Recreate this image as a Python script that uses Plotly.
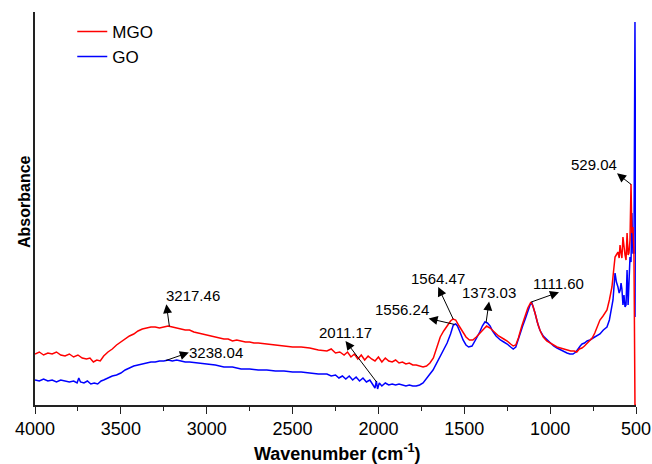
import numpy as np
import plotly.graph_objects as go

# ---------------- data ----------------
mgo_wn = [4000, 3975, 3950, 3925, 3900, 3875, 3850, 3825, 3800, 3775, 3750, 3725, 3700, 3680,
          3660, 3640, 3620, 3600, 3575, 3550, 3525, 3500, 3475, 3450, 3425, 3400, 3375, 3350,
          3325, 3300, 3275, 3250, 3225, 3200, 3175, 3150, 3125, 3100, 3075, 3050, 3025, 3000,
          2975, 2950, 2925, 2900, 2875, 2850, 2825, 2800, 2775, 2750, 2725, 2700, 2650, 2600,
          2550, 2500, 2450, 2400, 2350, 2300, 2275, 2250, 2225, 2200, 2180, 2160, 2140, 2120,
          2100, 2080, 2060, 2040, 2020, 2000, 1980, 1960, 1940, 1920, 1900, 1880, 1860, 1840,
          1820, 1800, 1780, 1760, 1740, 1720, 1700, 1680, 1660, 1640, 1620, 1600, 1580, 1566,
          1550, 1530, 1510, 1490, 1470, 1450, 1430, 1410, 1390, 1370, 1350, 1330, 1300, 1270,
          1250, 1230, 1215, 1200, 1185, 1165, 1145, 1130, 1112, 1100, 1085, 1070, 1055, 1040,
          1020, 1000, 980, 960, 940, 920, 900, 880, 860, 845, 830, 815, 800, 785, 770, 755,
          740, 727, 710, 692, 680, 669, 655, 640, 630, 622, 615, 605, 598, 593, 588, 582,
          576, 570, 564, 558, 552, 546, 541, 535, 529, 524, 518, 512, 506, 500]
mgo_abs = [51, 53, 50, 52, 51, 53, 50, 49, 51, 48, 50, 47, 46, 47,
           43, 45, 44, 49, 53, 56, 60, 63, 66, 69, 71, 74, 76, 77,
           78, 78, 77, 78, 79, 78, 77, 76, 75, 75, 73, 72, 71, 70,
           69, 68, 67, 66, 66, 64, 65, 64, 63, 63, 62, 62, 61, 60,
           59, 58, 58, 57, 55, 54, 56, 52, 53, 50, 53, 48, 51, 46,
           50, 45, 49, 46, 44, 48, 43, 47, 44, 43, 45, 42, 43, 41,
           42, 40, 40, 39, 38, 39, 42, 47, 58, 68, 74, 79, 84, 86,
           85, 79, 73, 68, 65, 65, 68, 72, 76, 79, 77, 74, 69, 66,
           64, 61, 59, 60, 67, 79, 89, 97, 103, 99, 90, 80, 73, 68,
           64, 62, 60, 58, 57, 56, 55, 54, 54, 53, 56, 57, 59, 62, 65, 67,
           72, 77, 85, 89, 92, 95, 105, 118, 135, 148, 150, 153, 147, 160, 153, 147,
           168, 157, 150, 145, 172, 150, 152, 165, 221, 172, 178, 155, 0, 0]

go_wn = [4000, 3975, 3950, 3925, 3900, 3875, 3850, 3825, 3800, 3775, 3755, 3745, 3735, 3715,
         3695, 3675, 3655, 3635, 3615, 3600, 3575, 3550, 3525, 3500, 3475, 3450, 3425, 3400,
         3375, 3350, 3325, 3300, 3275, 3250, 3225, 3200, 3175, 3150, 3125, 3100, 3050, 3000,
         2950, 2900, 2850, 2800, 2750, 2700, 2650, 2600, 2550, 2500, 2450, 2400, 2350, 2300,
         2275, 2250, 2230, 2210, 2190, 2170, 2150, 2130, 2110, 2090, 2070, 2050, 2035, 2020,
         2012, 2005, 1995, 1980, 1960, 1940, 1920, 1900, 1880, 1860, 1840, 1820, 1800, 1780,
         1760, 1740, 1720, 1700, 1682, 1660, 1641, 1620, 1600, 1580, 1564, 1550, 1540, 1525,
         1507, 1490, 1475, 1455, 1440, 1425, 1410, 1395, 1380, 1365, 1350, 1335, 1315, 1290,
         1270, 1250, 1230, 1215, 1200, 1188, 1175, 1160, 1145, 1130, 1117, 1106, 1095, 1088,
         1075, 1060, 1040, 1018, 1000, 980, 960, 940, 920, 902, 885, 867, 850, 835,
         825, 814, 800, 785, 768, 750, 730, 710, 690, 669, 655, 645, 634, 622,
         614, 605, 598, 592, 587, 582, 576, 570, 564, 558, 552, 546, 541, 535,
         529, 524, 518, 512, 506, 500]
go_abs = [25, 24, 26, 24, 25, 23, 25, 24, 23, 24, 22, 27, 23, 22,
          24, 21, 22, 21, 24, 25, 27, 29, 30, 32, 35, 37, 39, 40,
          41, 42, 43, 43, 44, 44, 45, 44, 45, 44, 43, 43, 42, 41,
          40, 38, 38, 36, 36, 35, 35, 34, 34, 33, 33, 32, 31, 31,
          29, 30, 27, 29, 26, 29, 25, 28, 24, 27, 23, 25, 21, 17,
          24, 16, 22, 19, 22, 20, 21, 20, 21, 20, 19, 20, 19, 19,
          20, 22, 26, 31, 35, 42, 48, 55, 62, 71, 80, 81, 79, 73,
          65, 60, 58, 59, 63, 68, 73, 79, 83, 82, 79, 74, 69, 65,
          63, 61, 58, 56, 58, 65, 72, 79, 86, 94, 100, 102, 97, 92,
          83, 75, 69, 65, 62, 59, 57, 55, 53, 52, 51, 51, 53, 57,
          59, 61, 62, 64, 65, 67, 69, 71, 75, 78, 85, 95, 105, 132,
          123, 118, 112, 115, 122, 116, 100, 110, 98, 100, 135, 100, 135, 148,
          143, 192, 152, 152, 383, 88]

series_names = ["MGO", "GO"]
series_colors = ["#ff0000", "#0000ff"]

# peak labels: text, wavenumber, series index (0 = MGO, 1 = GO)
peak_text = ["3217.46", "3238.04", "2011.17", "1564.47", "1556.24", "1373.03", "1111.60", "529.04"]
peak_wn = [3217.46, 3238.04, 2011.17, 1564.47, 1556.24, 1373.03, 1111.60, 529.04]
peak_series = [0, 1, 1, 0, 1, 1, 0, 0]
# label placement (pixels from the peak to the arrow tip / text anchor)
label_ax = [-3, 23, -31, -15, -26, 3, 28, -14]
label_ay = [-22, -8, -41, -32, -6, -21, -10, -11]
label_xanchor = ["left", "left", "center", "center", "right", "center", "center", "right"]
label_yanchor = ["bottom", "middle", "bottom", "bottom", "bottom", "bottom", "bottom", "bottom"]

x_ticks = [4000, 3500, 3000, 2500, 2000, 1500, 1000, 500]

FONT = "Arial, 'Liberation Sans', Helvetica, sans-serif"

fig = go.Figure()
xs = [mgo_wn, go_wn]
ys = [mgo_abs, go_abs]
for i in [1, 0]:
    fig.add_trace(go.Scatter(x=xs[i], y=ys[i], mode="lines", name=series_names[i],
                             line=dict(color=series_colors[i], width=1.5)))

annotations = []
for t, w, s, ax, ay, xa, ya in zip(peak_text, peak_wn, peak_series, label_ax, label_ay,
                                    label_xanchor, label_yanchor):
    xw = np.array(xs[s][::-1], dtype=float)
    yw = np.array(ys[s][::-1], dtype=float)
    yv = float(np.interp(w, xw, yw))
    annotations.append(dict(x=w, y=yv, xref="x", yref="y", text=t, showarrow=True,
                            ax=ax, ay=ay, xanchor=xa, yanchor=ya,
                            arrowside="start", arrowhead=2, startarrowhead=2,
                            startarrowsize=1.8, arrowsize=1.8, arrowwidth=1,
                            arrowcolor="black", standoff=0, startstandoff=0,
                            borderpad=0, borderwidth=0,
                            font=dict(family=FONT, size=15, color="black")))

annotations.append(dict(x=0.504, y=-0.12, xref="paper", yref="paper",
                        text="<b>Wavenumber (cm<sup>-1</sup>)</b>", showarrow=False,
                        xanchor="center", yanchor="middle",
                        font=dict(family=FONT, size=18, color="black")))
annotations.append(dict(x=-0.0183, y=0.5165, xref="paper", yref="paper",
                        text="<b>Absorbance</b>", showarrow=False, textangle=-90,
                        xanchor="center", yanchor="middle",
                        font=dict(family=FONT, size=16, color="black")))

fig.update_layout(
    width=652, height=464,
    margin=dict(l=35, r=16, t=12, b=59, autoexpand=False),
    paper_bgcolor="white", plot_bgcolor="white",
    font=dict(family=FONT, color="black"),
    showlegend=True,
    legend=dict(x=0.062, y=0.995, xanchor="left", yanchor="top", traceorder="reversed",
                bgcolor="rgba(0,0,0,0)", borderwidth=0,
                font=dict(family=FONT, size=17, color="black"), tracegroupgap=0),
    annotations=annotations,
    xaxis=dict(range=[4000, 500], tickvals=x_ticks, ticks="outside", ticklen=7,
               tickwidth=1.3, tickcolor="#222", showline=True, linecolor="#222",
               linewidth=1.5, showgrid=False, zeroline=False, automargin=False,
               tickfont=dict(family=FONT, size=18, color="black"),
               minor=dict(ticks="outside", ticklen=4, dtick=250, tick0=500,
                          tickcolor="#222", tickwidth=1.3, showgrid=False)),
    yaxis=dict(range=[0, 393], showticklabels=False, ticks="", showline=True,
               linecolor="#222", linewidth=1.5, showgrid=False, zeroline=False,
               automargin=False),
)

fig.write_html("out.html")
